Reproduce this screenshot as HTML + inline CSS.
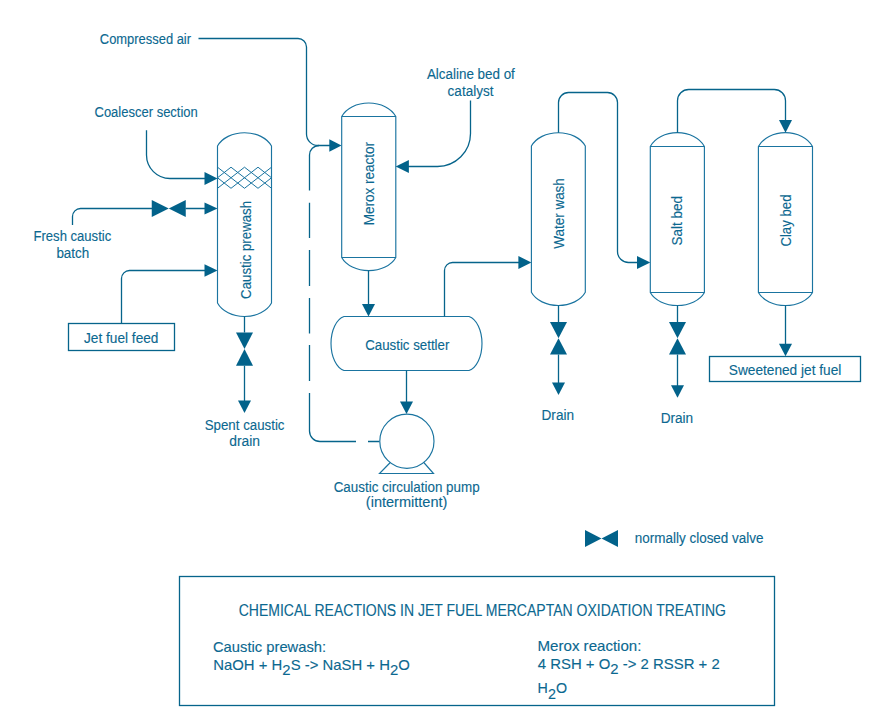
<!DOCTYPE html>
<html><head><meta charset="utf-8">
<style>
html,body{margin:0;padding:0;background:#fff;width:880px;height:725px;overflow:hidden}
svg{display:block}
text{font-family:"Liberation Sans",sans-serif;fill:#0b6890;stroke:#0b6890;stroke-width:0.12px}
.ln{fill:none;stroke:#06648b;stroke-width:1.3}
.vs{fill:none;stroke:#1a74a0;stroke-width:1.15}
.ar{fill:#02628a}
</style></head><body>
<svg width="880" height="725" viewBox="0 0 880 725">
<path class="ln" d="M198.5,38.5 H298 A8.5,8.5 0 0 1 306.5,47 V134 A11.5,11.5 0 0 0 318,145.5 H330"/>
<polygon class="ar" points="329.3,139.2 341.5,145.5 329.3,151.8"/>
<path class="ln" d="M319,145.5 A9.5,9.5 0 0 0 309.5,155 V190.5 M309.5,202.7 V238 M309.5,250 V286 M309.5,298 V333.4 M309.5,345 V381 M309.5,393 V431 A10.5,10.5 0 0 0 320,441.5 H356 M368,441.5 H379.5"/>
<path class="ln" d="M146.5,130.3 V155 A23.5,23.5 0 0 0 170,178.5 H205"/>
<polygon class="ar" points="204.5,172.0 217.5,178.5 204.5,185.0"/>
<path class="ln" d="M72.5,225 V216.5 A8,8 0 0 1 80.5,208.5 H152 M185.5,208.5 H205"/>
<polygon class="ar" points="151.75,199.9 168.75,208.5 151.75,217.1"/><polygon class="ar" points="185.75,199.9 168.75,208.5 185.75,217.1"/>
<polygon class="ar" points="204.5,202.5 217.5,208.5 204.5,214.5"/>
<rect class="ln" x="68.5" y="323.5" width="106" height="27"/>
<path class="ln" d="M121.5,323.5 V278.5 A8,8 0 0 1 129.5,270.5 H205"/>
<polygon class="ar" points="204.5,264.25 217.5,270.5 204.5,276.75"/>
<path class="vs" d="M217.5,146.1 A29.00,21.10 0 0 1 271.5,146.1 V303.1 A29.00,21.10 0 0 1 217.5,303.1 Z"/>
<path class="vs" style="stroke-width:1" d="M217.5,177.75 L231,167.2 L258,188.3 L271.5,177.75 M217.5,188.3 L244.5,167.2 L271.5,188.3 M217.5,167.2 L244.5,188.3 L271.5,167.2 M217.5,177.75 L231,188.3 L258,167.2 L271.5,177.75"/>
<path class="ln" d="M244.5,316.5 V332.4 M244.5,365.7 V401"/>
<polygon class="ar" points="236.0,332.40000000000003 253.0,332.40000000000003 244.5,349.05"/><polygon class="ar" points="236.0,365.7 253.0,365.7 244.5,349.05"/>
<polygon class="ar" points="238.0,400.5 251.0,400.5 244.5,413"/>
<path class="vs" d="M341.7,116.5 A29.05,21.25 0 0 1 395.8,116.5 V257.5 A29.05,20.62 0 0 1 341.7,257.5 Z M341.7,116.5 H395.8 M341.7,257.5 H395.8"/>
<path class="ln" d="M470.5,100.5 V133.5 A33,33 0 0 1 437.5,166.5 H408"/>
<polygon class="ar" points="408.9,160.0 395.7,166.5 408.9,173.0"/>
<path class="ln" d="M368.5,270.6 V304"/>
<polygon class="ar" points="362.0,304.0 375.0,304.0 368.5,316.5"/>
<path class="vs" d="M344,316.5 H469 A16,27.49 0 0 1 469,370.5 H344 A16,27.49 0 0 1 344,316.5 Z"/>
<path class="ln" d="M444.5,316.5 V270.5 A8,8 0 0 1 452.5,262.5 H519"/>
<polygon class="ar" points="518.4,256.0 531.4,262.5 518.4,269.0"/>
<path class="ln" d="M406.5,370.5 V402"/>
<polygon class="ar" points="400.0,401.5 413.0,401.5 406.5,414"/>
<circle class="vs" cx="406.9" cy="441.2" r="27.1"/>
<path class="vs" d="M390.3,462.5 L379.5,473.5 H433.5 L423.8,462.5"/>
<path class="vs" d="M531.4,146.1 A28.95,21.11 0 0 1 585.3,146.1 V292.3 A28.95,20.80 0 0 1 531.4,292.3 Z"/>
<path class="ln" d="M558.5,132.7 V102.5 A10,10 0 0 1 568.5,92.5 H607.5 A10,10 0 0 1 617.5,102.5 V251.5 A11,11 0 0 0 628.5,262.5 H638"/>
<polygon class="ar" points="637.0,256.0 650.3,262.5 637.0,269.0"/>
<path class="ln" d="M558.5,305.5 V322 M558.5,354.4 V383"/>
<polygon class="ar" points="550.0,321.9 567.0,321.9 558.5,338.2"/><polygon class="ar" points="550.0,354.5 567.0,354.5 558.5,338.2"/>
<polygon class="ar" points="552.0,382.5 565.0,382.5 558.5,395"/>
<path class="vs" d="M650.3,146.5 A29.05,21.72 0 0 1 704.4,146.5 V292.5 A29.05,20.46 0 0 1 650.3,292.5 Z M650.3,146.5 H704.4 M650.3,292.5 H704.4"/>
<path class="ln" d="M677.5,132.7 V100.7 A11.2,11.2 0 0 1 688.7,89.5 H774.3 A11.2,11.2 0 0 1 785.5,100.7 V120"/>
<polygon class="ar" points="779.0,119.99999999999999 792.0,119.99999999999999 785.5,132.7"/>
<path class="ln" d="M677.5,305.5 V322 M677.5,354.4 V386"/>
<polygon class="ar" points="669.0,321.9 686.0,321.9 677.5,338.2"/><polygon class="ar" points="669.0,354.5 686.0,354.5 677.5,338.2"/>
<polygon class="ar" points="671.0,385.2 684.0,385.2 677.5,397.7"/>
<path class="vs" d="M758.4,146.5 A29.05,21.72 0 0 1 812.5,146.5 V292.5 A29.05,20.46 0 0 1 758.4,292.5 Z M758.4,146.5 H812.5 M758.4,292.5 H812.5"/>
<path class="ln" d="M785.5,305.5 V344"/>
<polygon class="ar" points="779.0,343.7 792.0,343.7 785.5,356.2"/>
<rect class="ln" x="709.5" y="356.5" width="151" height="25"/>
<polygon class="ar" points="585.0,530.0 601.5,538.5 585.0,547.0"/><polygon class="ar" points="618.0,530.0 601.5,538.5 618.0,547.0"/>
<rect class="ln" x="179.5" y="576.5" width="595" height="129"/>
<text x="99.81" y="44.30" font-size="14.0" textLength="91.26" lengthAdjust="spacingAndGlyphs">Compressed air</text>
<text x="94.50" y="117.30" font-size="14.0" textLength="103.32" lengthAdjust="spacingAndGlyphs">Coalescer section</text>
<text x="33.47" y="241.00" font-size="14.0" textLength="77.77" lengthAdjust="spacingAndGlyphs">Fresh caustic</text>
<text x="56.38" y="257.90" font-size="14.0" textLength="32.84" lengthAdjust="spacingAndGlyphs">batch</text>
<text x="83.96" y="343.00" font-size="14.0" textLength="74.51" lengthAdjust="spacingAndGlyphs">Jet fuel feed</text>
<text x="204.73" y="429.80" font-size="14.0" textLength="79.77" lengthAdjust="spacingAndGlyphs">Spent caustic</text>
<text x="229.20" y="446.25" font-size="14.0" textLength="30.88" lengthAdjust="spacingAndGlyphs">drain</text>
<text x="426.90" y="79.00" font-size="14.0" textLength="87.95" lengthAdjust="spacingAndGlyphs">Alcaline bed of</text>
<text x="447.62" y="95.50" font-size="14.0" textLength="45.85" lengthAdjust="spacingAndGlyphs">catalyst</text>
<text x="365.19" y="350.20" font-size="14.0" textLength="84.20" lengthAdjust="spacingAndGlyphs">Caustic settler</text>
<text x="333.68" y="492.25" font-size="14.0" textLength="145.91" lengthAdjust="spacingAndGlyphs">Caustic circulation pump</text>
<text x="365.82" y="506.90" font-size="14.0" textLength="81.54" lengthAdjust="spacingAndGlyphs">(intermittent)</text>
<text x="541.53" y="419.80" font-size="14.0" textLength="32.57" lengthAdjust="spacingAndGlyphs">Drain</text>
<text x="660.63" y="422.50" font-size="14.0" textLength="32.57" lengthAdjust="spacingAndGlyphs">Drain</text>
<text x="728.81" y="374.70" font-size="14.0" textLength="112.52" lengthAdjust="spacingAndGlyphs">Sweetened jet fuel</text>
<text x="634.78" y="542.50" font-size="14.0" textLength="128.79" lengthAdjust="spacingAndGlyphs">normally closed valve</text>
<text transform="translate(251.40,298.91) rotate(-90)" x="0" y="0" font-size="14.0" textLength="98.02" lengthAdjust="spacingAndGlyphs">Caustic prewash</text>
<text transform="translate(373.60,225.27) rotate(-90)" x="0" y="0" font-size="14.0" textLength="83.37" lengthAdjust="spacingAndGlyphs">Merox reactor</text>
<text transform="translate(563.70,248.80) rotate(-90)" x="0" y="0" font-size="14.0" textLength="70.66" lengthAdjust="spacingAndGlyphs">Water wash</text>
<text transform="translate(682.40,245.38) rotate(-90)" x="0" y="0" font-size="14.0" textLength="49.42" lengthAdjust="spacingAndGlyphs">Salt bed</text>
<text transform="translate(790.60,246.61) rotate(-90)" x="0" y="0" font-size="14.0" textLength="52.13" lengthAdjust="spacingAndGlyphs">Clay bed</text>
<text x="238.73" y="615.50" font-size="15.8" textLength="487.23" lengthAdjust="spacingAndGlyphs">CHEMICAL REACTIONS IN JET FUEL MERCAPTAN OXIDATION TREATING</text>
<text x="212.98" y="652.00" font-size="14.4" textLength="113.19" lengthAdjust="spacingAndGlyphs">Caustic prewash:</text>
<text x="213.27" y="669.80" font-size="14.4" textLength="196.55" lengthAdjust="spacingAndGlyphs">NaOH + H<tspan dy="5.5">2</tspan><tspan dy="-5.5">S -&gt; NaSH + H</tspan><tspan dy="5.5">2</tspan><tspan dy="-5.5">O</tspan></text>
<text x="537.55" y="650.90" font-size="14.4" textLength="103.89" lengthAdjust="spacingAndGlyphs">Merox reaction:</text>
<text x="537.74" y="668.60" font-size="14.4" textLength="181.97" lengthAdjust="spacingAndGlyphs">4 RSH + O<tspan dy="5.5">2</tspan><tspan dy="-5.5"> -&gt; 2 RSSR + 2</tspan></text>
<text x="537.61" y="693.00" font-size="14.4" textLength="29.41" lengthAdjust="spacingAndGlyphs">H<tspan dy="5.5">2</tspan><tspan dy="-5.5">O</tspan></text>
</svg>
</body></html>
